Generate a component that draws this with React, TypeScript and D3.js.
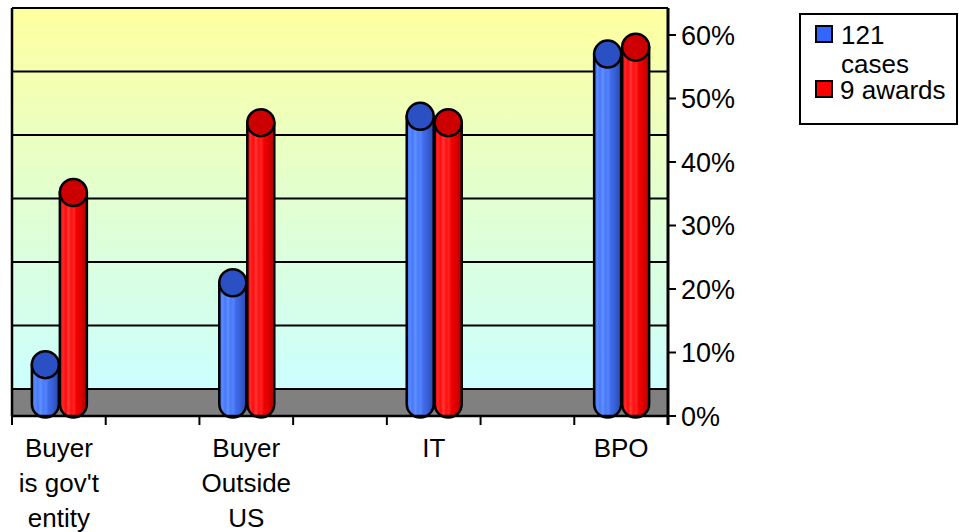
import React from "react";
import * as d3 from "d3";

const categories: string[][] = [
  ["Buyer", "is gov't", "entity"],
  ["Buyer", "Outside", "US"],
  ["IT"],
  ["BPO"],
];
const casesValues = [6.2, 19.1, 45.3, 55.1];
const awardsValues = [33.3, 44.3, 44.3, 56.2];
const yTicks = [0, 10, 20, 30, 40, 50, 60];
const seriesNames = [["121", "cases"], ["9 awards"]];

const W = 959;
const H = 532;
const FONT = "'Liberation Sans', Arial, sans-serif";

export default function App() {
  const left = 12;
  const right = 668;
  const depth = 27;
  const y = d3.scaleLinear().domain([0, 60]).range([416, 35]);
  const wallTop = y(60) - depth;
  const wallBottom = y(0) - depth;
  // 7 slots: categories occupy every other slot
  const x = d3.scaleBand<number>().domain(d3.range(7)).range([left, right]).padding(0);
  const slotOf = (i: number) => i * 2;
  const r = 13.5;
  const ry = 13.5;
  const cylOffset = 12;

  const cylinder = (cx: number, v: number, grad: string, top: string, key: string) => {
    const yTop = y(v) - cylOffset;
    const yBot = y(0) - cylOffset;
    const body = `M${cx - r},${yTop} L${cx - r},${yBot} A${r},${ry} 0 0 0 ${cx + r},${yBot} L${cx + r},${yTop} Z`;
    return (
      <g key={key}>
        <path d={body} fill={`url(#${grad})`} stroke="#000" strokeWidth={2.5} />
        <ellipse cx={cx} cy={yTop} rx={r} ry={ry} fill={top} stroke="#000" strokeWidth={2.5} />
      </g>
    );
  };

  const blueStops = [
    [0, "#3a68ee"], [0.12, "#5a8aff"], [0.22, "#4878fb"], [0.32, "#6090ff"], [0.42, "#4a7af8"],
    [0.52, "#5482ff"], [0.62, "#3f6ae8"], [0.74, "#3a62dc"], [0.86, "#3256c6"], [1, "#2a48a8"],
  ];
  const redStops = [
    [0, "#e00000"], [0.12, "#ff2828"], [0.22, "#ff0a0a"], [0.32, "#ff3838"], [0.42, "#ff1010"],
    [0.52, "#ff2222"], [0.62, "#f00000"], [0.74, "#e40000"], [0.86, "#cc0000"], [1, "#b00000"],
  ];

  return (
    <svg width={W} height={H} style={{ position: "absolute", left: 0, top: 0, background: "#fff" }}>
      <defs>
        <linearGradient id="wall" x1="0" y1="0" x2="0" y2="1">
          <stop offset="0" stopColor="#ffffa0" />
          <stop offset="0.5" stopColor="#e2ffd0" />
          <stop offset="1" stopColor="#ccffff" />
        </linearGradient>
        <linearGradient id="blueBody" x1="0" y1="0" x2="1" y2="0">
          {blueStops.map(([o, c], i) => (
            <stop key={i} offset={o as number} stopColor={c as string} />
          ))}
        </linearGradient>
        <linearGradient id="redBody" x1="0" y1="0" x2="1" y2="0">
          {redStops.map(([o, c], i) => (
            <stop key={i} offset={o as number} stopColor={c as string} />
          ))}
        </linearGradient>
      </defs>

      {/* back wall */}
      <rect x={left} y={wallTop} width={right - left} height={wallBottom - wallTop} fill="url(#wall)" />
      {yTicks.map((t) => (
        <line key={"g" + t} x1={left} x2={right} y1={y(t) - depth} y2={y(t) - depth} stroke="#000" strokeWidth={1.8} />
      ))}
      {/* floor */}
      <rect x={left} y={wallBottom} width={right - left} height={y(0) - wallBottom} fill="#808080" />
      <line x1={left} x2={right} y1={wallBottom} y2={wallBottom} stroke="#000" strokeWidth={2} />

      {/* cylinders */}
      {categories.map((_, i) => {
        const c = (x(slotOf(i)) as number) + x.bandwidth() / 2;
        return (
          <g key={"c" + i}>
            {cylinder(c - r, casesValues[i], "blueBody", "#2a50c4", "b" + i)}
            {cylinder(c + r + 1, awardsValues[i], "redBody", "#cc0000", "r" + i)}
          </g>
        );
      })}

      {/* borders and axes */}
      <line x1={left} x2={left} y1={wallTop} y2={y(0)} stroke="#000" strokeWidth={2.5} />
      <line x1={left} x2={right} y1={wallTop} y2={wallTop} stroke="#000" strokeWidth={2} />
      <line x1={right} x2={right} y1={wallTop} y2={y(0) + 9} stroke="#000" strokeWidth={3} />
      <line x1={left} x2={right} y1={y(0)} y2={y(0)} stroke="#000" strokeWidth={2.5} />
      {d3.range(8).map((k) => {
        const xx = k < 7 ? (x(k) as number) : right;
        return <line key={"xt" + k} x1={xx} x2={xx} y1={y(0)} y2={y(0) + 9} stroke="#000" strokeWidth={2} />;
      })}
      {yTicks.map((t) => (
        <g key={"yt" + t}>
          <line x1={right} x2={right + 8} y1={y(t)} y2={y(t)} stroke="#000" strokeWidth={2} />
          <text x={right + 13} y={y(t) + 9.5} fontFamily={FONT} fontSize={27} fill="#000">
            {t}%
          </text>
        </g>
      ))}
      {categories.map((lines, i) => {
        const c = (x(slotOf(i)) as number) + x.bandwidth() / 2;
        return (
          <text key={"cl" + i} textAnchor="middle" fontFamily={FONT} fontSize={26} fill="#000">
            {lines.map((ln, j) => (
              <tspan key={j} x={c} y={457 + j * 35}>
                {ln}
              </tspan>
            ))}
          </text>
        );
      })}

      {/* legend */}
      <rect x={800} y={14} width={157} height={110} fill="#fff" stroke="#000" strokeWidth={2} />
      <rect x={816} y={26} width={16} height={16} fill="#3366ff" stroke="#000" strokeWidth={2} />
      <text fontFamily={FONT} fontSize={26} fill="#000">
        <tspan x={841} y={44}>{seriesNames[0][0]}</tspan>
        <tspan x={841} y={73}>{seriesNames[0][1]}</tspan>
      </text>
      <rect x={816} y={81} width={16} height={16} fill="#ff0000" stroke="#000" strokeWidth={2} />
      <text x={840} y={99} fontFamily={FONT} fontSize={26} fill="#000">
        {seriesNames[1][0]}
      </text>
    </svg>
  );
}
